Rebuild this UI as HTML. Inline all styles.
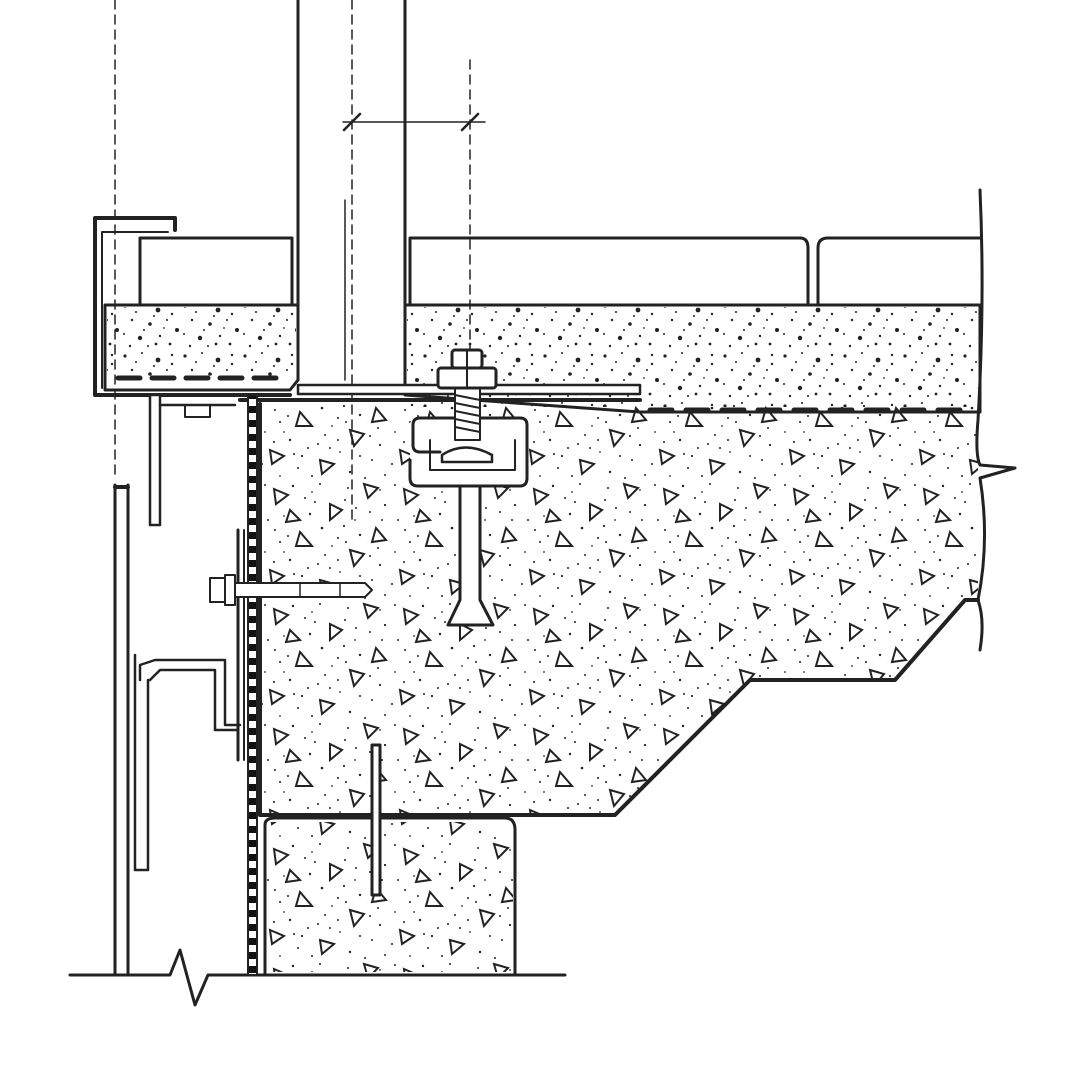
<!DOCTYPE html>
<html><head><meta charset="utf-8"><style>html,body{margin:0;padding:0;background:#fff}svg{display:block}</style></head>
<body>
<svg width="1080" height="1080" viewBox="0 0 1080 1080" xmlns="http://www.w3.org/2000/svg">
<defs>
<pattern id="tri" width="130" height="120" patternUnits="userSpaceOnUse">
<g fill="none" stroke="#222" stroke-width="2">
<polygon points="14,9 28,15 16,24"/>
<polygon points="70,24 82,30 70,40"/>
<polygon points="104,4 118,8 108,18"/>
<polygon points="40,52 52,66 36,66"/>
<polygon points="90,70 104,74 94,86"/>
<polygon points="10,90 24,96 12,104"/>
<polygon points="60,100 74,104 62,114"/>
<polygon points="116,48 126,60 112,62"/>
<polygon points="30,30 40,40 26,42"/>
</g>
<g fill="#222">
<circle cx="5" cy="5" r="1"/><circle cx="33" cy="6" r="1.2"/><circle cx="52" cy="12" r="0.9"/><circle cx="88" cy="8" r="1"/><circle cx="125" cy="25" r="1.1"/>
<circle cx="8" cy="40" r="1"/><circle cx="50" cy="34" r="1.2"/><circle cx="95" cy="40" r="0.9"/><circle cx="110" cy="32" r="1"/><circle cx="62" cy="48" r="1.3"/>
<circle cx="20" cy="62" r="1"/><circle cx="78" cy="58" r="1"/><circle cx="100" cy="55" r="1.2"/><circle cx="5" cy="72" r="0.9"/><circle cx="65" cy="75" r="1"/>
<circle cx="30" cy="80" r="1.2"/><circle cx="48" cy="88" r="1"/><circle cx="80" cy="92" r="0.9"/><circle cx="120" cy="85" r="1.1"/><circle cx="112" cy="100" r="1"/>
<circle cx="38" cy="108" r="1"/><circle cx="90" cy="112" r="1.2"/><circle cx="20" cy="116" r="0.9"/><circle cx="125" cy="115" r="1"/><circle cx="55" cy="22" r="1"/>
<circle cx="120" cy="10" r="0.9"/><circle cx="85" cy="20" r="1"/><circle cx="15" cy="50" r="1"/><circle cx="72" cy="66" r="0.9"/><circle cx="42" cy="96" r="1.1"/>
<circle cx="100" cy="96" r="1"/><circle cx="24" cy="72" r="0.9"/><circle cx="58" cy="84" r="1"/><circle cx="2" cy="104" r="1"/><circle cx="84" cy="46" r="1.1"/>
<circle cx="45" cy="18" r="1"/><circle cx="96" cy="28" r="1"/><circle cx="122" cy="40" r="1"/><circle cx="28" cy="56" r="1"/><circle cx="86" cy="62" r="1"/>
<circle cx="110" cy="76" r="1"/><circle cx="14" cy="82" r="1"/><circle cx="70" cy="88" r="1"/><circle cx="52" cy="116" r="1"/><circle cx="105" cy="118" r="1"/>
<circle cx="60" cy="4" r="1"/><circle cx="24" cy="36" r="0.9"/><circle cx="78" cy="80" r="1"/><circle cx="118" cy="68" r="1"/><circle cx="34" cy="94" r="1"/>
</g>
</pattern>
<pattern id="scr" width="60" height="50" patternUnits="userSpaceOnUse">
<g fill="#222">
<circle cx="5" cy="6" r="1.6"/><circle cx="22" cy="3" r="1"/><circle cx="38" cy="10" r="2.4"/><circle cx="52" cy="5" r="1.2"/>
<circle cx="12" cy="20" r="1.2"/><circle cx="30" cy="24" r="1.8"/><circle cx="47" cy="20" r="1"/><circle cx="57" cy="30" r="2"/>
<circle cx="4" cy="34" r="1"/><circle cx="20" cy="38" r="2.2"/><circle cx="40" cy="36" r="1.2"/><circle cx="28" cy="46" r="1"/>
<circle cx="50" cy="44" r="1.4"/><circle cx="10" cy="46" r="1.2"/><circle cx="44" cy="28" r="0.9"/>
<circle cx="16" cy="12" r="1"/><circle cx="34" cy="16" r="1"/><circle cx="24" cy="30" r="1"/><circle cx="52" cy="14" r="1.2"/><circle cx="36" cy="44" r="1.4"/>
</g>
</pattern>
<pattern id="ins" width="10" height="14" patternUnits="userSpaceOnUse">
<rect width="10" height="7" fill="#111"/><rect y="7" width="10" height="7" fill="#fff"/>
</pattern>
</defs>
<rect width="1080" height="1080" fill="#fff"/>
<path d="M262 404 H978 V600 H965 L895 680 H750 L615 813 H262 Z" fill="url(#tri)"/>
<rect x="267" y="822" width="246" height="150" fill="url(#tri)"/>
<rect x="107" y="307" width="189" height="70" fill="url(#scr)"/>
<rect x="407" y="307" width="571" height="100" fill="url(#scr)"/>
<g fill="none" stroke="#222" stroke-linecap="round" stroke-linejoin="round">
<g stroke-width="1.5" stroke-dasharray="9,6">
<line x1="115" y1="0" x2="115" y2="480"/>
<line x1="352" y1="0" x2="352" y2="520"/>
<line x1="470" y1="60" x2="470" y2="500"/>
</g>
<line x1="343" y1="122" x2="485" y2="122" stroke-width="1.5"/>
<line x1="344" y1="130" x2="360" y2="114" stroke-width="2.5"/>
<line x1="462" y1="130" x2="478" y2="114" stroke-width="2.5"/>
<line x1="298" y1="0" x2="298" y2="380" stroke-width="3"/>
<line x1="405" y1="0" x2="405" y2="385" stroke-width="3"/>
<line x1="345" y1="200" x2="345" y2="380" stroke-width="1.5"/>
<rect x="140" y="238" width="152" height="67" stroke-width="3"/>
<path d="M410 305 V238 H800 Q808 238 808 248 V305" stroke-width="3"/>
<path d="M818 305 V248 Q818 238 828 238 H980" stroke-width="3"/>
<path d="M105 305 H298 V380 L290 390 H105 Z" stroke-width="3"/>
<path d="M405 305 H980 V412 H640 L405 395 Z" stroke-width="3"/>
<line x1="118" y1="378" x2="280" y2="378" stroke-width="5" stroke-dasharray="22,12"/>
<line x1="650" y1="410" x2="960" y2="410" stroke-width="5" stroke-dasharray="22,14"/>
<path d="M175 230 V218 H95 V395 H290" stroke-width="4"/>
<path d="M168 232 H102 V388" stroke-width="2"/>
<rect x="298" y="385" width="342" height="9" fill="#fff" stroke-width="2.5"/>
<line x1="240" y1="400" x2="640" y2="400" stroke-width="4"/>
<path d="M260 404 V815 H615 L750 680 H895 L965 600 H978" stroke-width="4"/>
<path d="M980 190 Q985 300 978 420 Q975 455 980 465 L1015 468 L980 478 Q990 540 978 600 Q985 620 980 650" stroke-width="3"/>
<path d="M265 975 V825 Q265 818 275 818 H505 Q515 818 515 830 V975" stroke-width="3"/>
<path d="M70 975 H170 L180 950 L195 1005 L208 975 H565" stroke-width="3"/>
<rect x="248" y="395" width="9" height="580" fill="url(#ins)" stroke-width="2"/>
<path d="M150 525 V395 H160 V525 Z" fill="#fff" stroke-width="2.5"/>
<path d="M160 405 H235" stroke-width="2.5"/>
<rect x="185" y="405" width="25" height="12" stroke-width="2"/>
<path d="M115 485 V975 M128 485 V975" stroke-width="3"/>
<path d="M115 487 H128" stroke-width="4"/>
<path d="M135 655 V870 M148 680 V870 M135 870 H148" stroke-width="2.5"/>
<path d="M140 680 V665 L155 660 H225 V725 H240 M150 680 L160 670 H215 V730 H238" stroke-width="2.5"/>
<line x1="238" y1="530" x2="238" y2="760" stroke-width="3"/>
<line x1="244" y1="530" x2="244" y2="760" stroke-width="2"/>
<rect x="225" y="575" width="10" height="30" stroke-width="2"/>
<rect x="210" y="578" width="15" height="24" stroke-width="2"/>
<path d="M235 583 H365 L372 590 L365 597 H235 Z" fill="#fff" stroke-width="2"/>
<line x1="300" y1="583" x2="300" y2="597" stroke-width="1.5"/>
<line x1="340" y1="583" x2="340" y2="597" stroke-width="1.5"/>
<path d="M410 486 V425 Q410 418 418 418 H520 Q527 418 527 425 V478 Q527 486 520 486 Z" fill="#fff" stroke="none"/>
<path d="M440 452 H420 Q413 452 413 445 V425 Q413 418 420 418 H520 Q527 418 527 425 V478 Q527 486 520 486 H418 Q410 486 410 478 V460" stroke-width="3"/>
<path d="M430 440 V470 H515 V440" stroke-width="2"/>
<path d="M442 455 Q465 440 492 455 V462 H442 Z" stroke-width="2.5"/>
<path d="M460 486 V600 L448 625 H493 L480 600 V486 Z" fill="#fff" stroke-width="3"/>
<rect x="455" y="388" width="25" height="52" fill="#fff" stroke-width="2"/>
<g stroke-width="2"><line x1="455" y1="395" x2="480" y2="400"/><line x1="455" y1="403" x2="480" y2="408"/><line x1="455" y1="411" x2="480" y2="416"/><line x1="455" y1="419" x2="480" y2="424"/><line x1="455" y1="427" x2="480" y2="432"/></g>
<rect x="438" y="368" width="58" height="20" rx="3" fill="#fff" stroke-width="3"/>
<rect x="452" y="350" width="30" height="18" rx="3" fill="#fff" stroke-width="3"/>
<line x1="467" y1="350" x2="467" y2="388" stroke-width="2"/>
<rect x="372" y="745" width="8" height="150" fill="#fff" stroke-width="3"/>
</g>
</svg>
</body></html>
